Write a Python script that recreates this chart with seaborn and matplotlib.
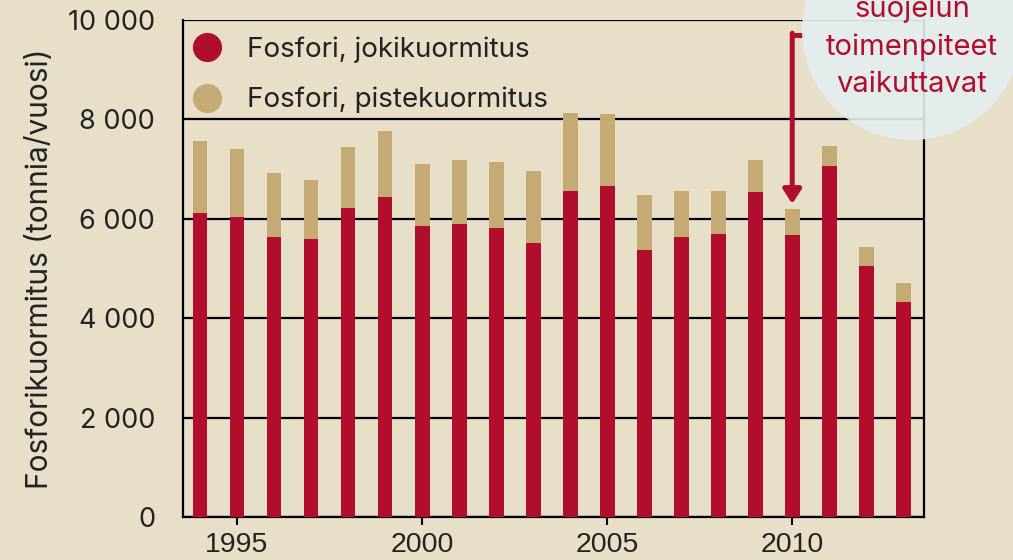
import matplotlib
matplotlib.use("Agg")
import matplotlib.pyplot as plt
from matplotlib.lines import Line2D
from matplotlib.patches import Ellipse
import seaborn as sns
import pandas as pd

years = list(range(1994, 2014))
river_load = [6120, 6040, 5630, 5590, 6220, 6440, 5860, 5900, 5820, 5510,
              6560, 6660, 5370, 5630, 5690, 6540, 5670, 7060, 5050, 4330]
total_load = [7570, 7400, 6920, 6780, 7450, 7770, 7100, 7180, 7140, 6960,
              8130, 8110, 6480, 6560, 6560, 7180, 6200, 7470, 5430, 4710]
y_ticks = [0, 2000, 4000, 6000, 8000, 10000]
y_tick_labels = ["0", "2 000", "4 000", "6 000", "8 000", "10 000"]
x_ticks = [1995, 2000, 2005, 2010]
legend_labels = ["Fosfori, jokikuormitus", "Fosfori, pistekuormitus"]
y_label = "Fosforikuormitus (tonnia/vuosi)"
note_lines = ["suojelun", "toimenpiteet", "vaikuttavat"]
arrow_year = 2010

RED = "#b10e2e"
TAN = "#c6aa74"
BG = "#e8dfc9"
INK = "#222222"
FONT = ["Inter", "DejaVu Sans"]
XFONT = ["Liberation Sans", "DejaVu Sans"]

df = pd.DataFrame({"year": years, "river": river_load, "total": total_load})

sns.set_theme(style="white")
plt.rcParams["font.family"] = FONT

fig = plt.figure(figsize=(10.13, 5.6), dpi=100, facecolor=BG)
ax = fig.add_axes([183 / 1013, 1 - 517 / 560, (924 - 183) / 1013, (517 - 20) / 560])
ax.set_facecolor(BG)

sns.barplot(data=df, x="year", y="total", native_scale=True, color=TAN,
            saturation=1, width=0.4, ax=ax, zorder=3, linewidth=0, edgecolor="none")
sns.barplot(data=df, x="year", y="river", native_scale=True, color=RED,
            saturation=1, width=0.4, ax=ax, zorder=4, linewidth=0, edgecolor="none")

ax.set_xlim(1993.54, 2013.56)
ax.set_ylim(0, 10000)
ax.set_yticks(y_ticks)
ax.set_yticklabels(y_tick_labels, fontsize=19.5, color=INK)
ax.set_xticks(x_ticks)
ax.set_xticklabels([str(x) for x in x_ticks], fontsize=20.5, color=INK, family=XFONT)
ax.tick_params(axis="y", length=0, pad=20)
ax.tick_params(axis="x", length=6, width=1.5, color="black", pad=5, direction="out",
               bottom=True)
ax.set_xlabel("")
ax.set_ylabel(y_label, fontsize=21.5, color=INK, labelpad=10)

ax.grid(axis="y", color="black", linewidth=1.6)
ax.set_axisbelow(True)
for side in ["left", "right", "bottom"]:
    ax.spines[side].set_visible(True)
    ax.spines[side].set_color("black")
    ax.spines[side].set_linewidth(1.6)
ax.spines["top"].set_visible(False)

handles = [Line2D([], [], marker="o", linestyle="", markersize=20, color=RED),
           Line2D([], [], marker="o", linestyle="", markersize=20, color=TAN)]
ax.legend(handles, legend_labels, loc="upper left", bbox_to_anchor=(0.0, 1.0),
          frameon=False, fontsize=20, handlelength=0.5, handletextpad=1.22,
          labelspacing=0.85, borderaxespad=0.3, borderpad=0.3, labelcolor=INK)

# Circle annotation
circ = Ellipse((912 / 1013, 1 - 30 / 560), 220 / 1013, 220 / 560,
               transform=fig.transFigure, facecolor="#e4eef1", alpha=0.9,
               edgecolor="none", zorder=5)
fig.patches.append(circ)
for line, base in zip(note_lines, [17, 55, 92]):
    fig.text(912 / 1013, 1 - base / 560, line, ha="center", va="baseline",
             fontsize=21, color=RED, zorder=6)

# Arrow
ax.plot([arrow_year + 0.32, arrow_year], [9700, 9700], color=RED, lw=3.6,
        solid_capstyle="butt", zorder=7, clip_on=False)
ax.annotate("", xy=(arrow_year, 6300), xytext=(arrow_year, 9735),
            arrowprops=dict(arrowstyle="-|>,head_length=0.7,head_width=0.45",
                            color=RED, lw=3.6, shrinkA=0, shrinkB=0),
            zorder=7, annotation_clip=False)

fig.savefig("out.png", dpi=100, facecolor=BG)
